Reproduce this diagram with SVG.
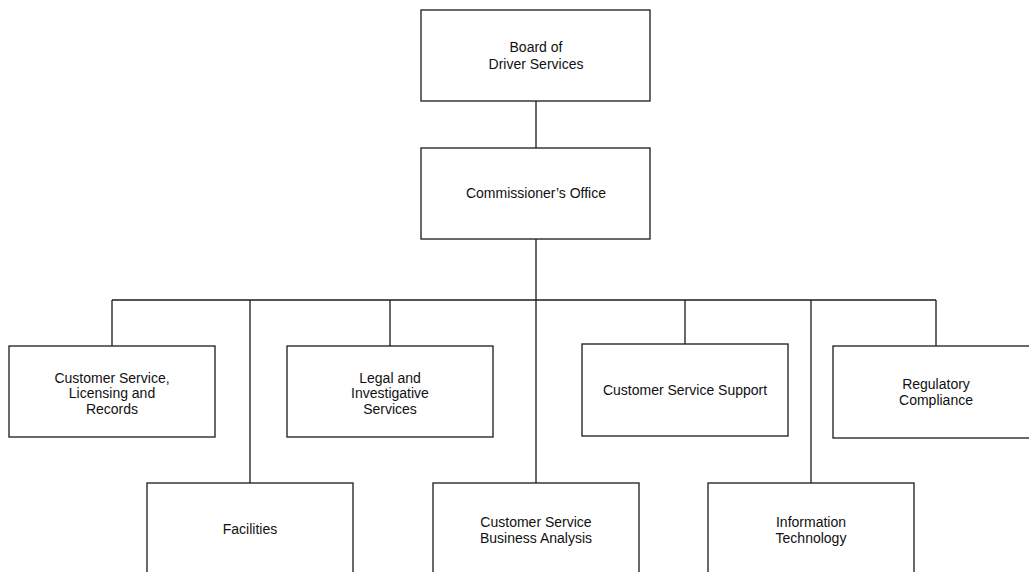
<svg xmlns="http://www.w3.org/2000/svg" width="1029" height="572" viewBox="0 0 1029 572">
<style>
.box{fill:#fff;stroke:#1a1a1a;stroke-width:1.3}
.ln{fill:none;stroke:#1a1a1a;stroke-width:1.3}
text{font-family:"Liberation Sans",Arial,sans-serif;font-size:14px;fill:#111;text-anchor:middle}
</style>
<rect width="1029" height="572" fill="#fff"/>
<g id="connectors">
<line class="ln" x1="536" y1="101" x2="536" y2="148"/>
<line class="ln" x1="536" y1="239" x2="536" y2="483"/>
<line class="ln" x1="112" y1="300" x2="936" y2="300"/>
<line class="ln" x1="112" y1="300" x2="112" y2="346"/>
<line class="ln" x1="250" y1="300" x2="250" y2="483"/>
<line class="ln" x1="390" y1="300" x2="390" y2="346"/>
<line class="ln" x1="685" y1="300" x2="685" y2="344"/>
<line class="ln" x1="811" y1="300" x2="811" y2="483"/>
<line class="ln" x1="936" y1="300" x2="936" y2="346"/>
</g>
<g id="board">
<rect class="box" x="421" y="10" width="229" height="91"/>
<text x="536" y="52">Board of</text>
<text x="536" y="69">Driver Services</text>
</g>
<g id="commissioner">
<rect class="box" x="421" y="148" width="229" height="91"/>
<text x="536" y="198">Commissioner’s Office</text>
</g>
<g id="cslr">
<rect class="box" x="9" y="346" width="206" height="91"/>
<text x="112" y="382.5">Customer Service,</text>
<text x="112" y="398">Licensing and</text>
<text x="112" y="413.5">Records</text>
</g>
<g id="legal">
<rect class="box" x="287" y="346" width="206" height="91"/>
<text x="390" y="382.5">Legal and</text>
<text x="390" y="398">Investigative</text>
<text x="390" y="413.5">Services</text>
</g>
<g id="css">
<rect class="box" x="582" y="344" width="206" height="92"/>
<text x="685" y="395">Customer Service Support</text>
</g>
<g id="regulatory">
<rect class="box" x="833" y="346" width="206" height="92"/>
<text x="936" y="389">Regulatory</text>
<text x="936" y="405">Compliance</text>
</g>
<g id="facilities">
<rect class="box" x="147" y="483" width="206" height="100"/>
<text x="250" y="534">Facilities</text>
</g>
<g id="csba">
<rect class="box" x="433" y="483" width="206" height="100"/>
<text x="536" y="526.5">Customer Service</text>
<text x="536" y="543">Business Analysis</text>
</g>
<g id="it">
<rect class="box" x="708" y="483" width="206" height="100"/>
<text x="811" y="526.5">Information</text>
<text x="811" y="543">Technology</text>
</g>
</svg>
